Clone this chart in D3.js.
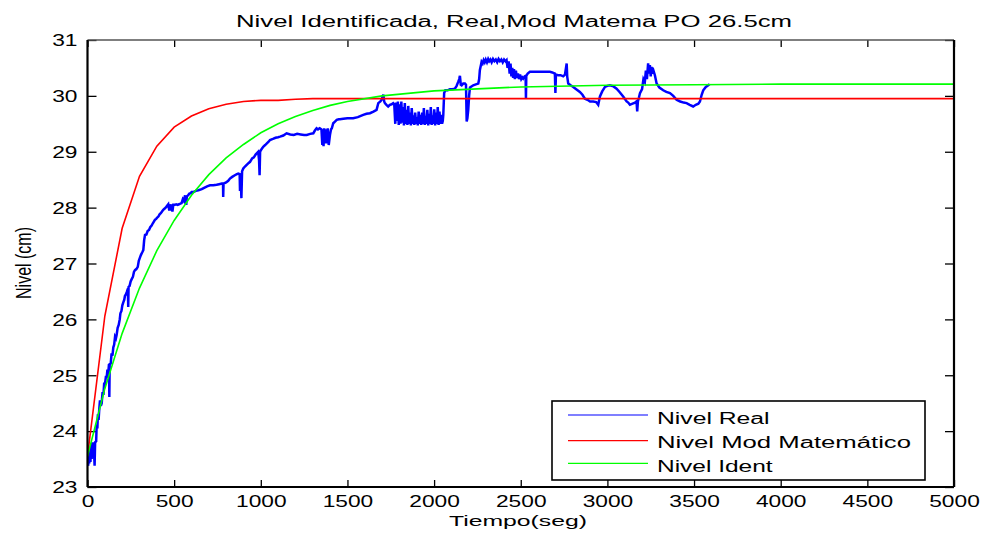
<!DOCTYPE html>
<html>
<head>
<meta charset="utf-8">
<script src="https://cdn.jsdelivr.net/npm/d3@7"></script>
<style>
  html, body { margin: 0; padding: 0; background: #fff; }
  svg { display: block; }
  text { font-family: "Liberation Sans", Arial, Helvetica, sans-serif; fill: #000; }
</style>
</head>
<body>
<svg id="chart" width="984" height="533"></svg>
<script>
// ---------------- DATA ----------------
const titleText = "Nivel Identificada, Real,Mod Matema PO 26.5cm";
const xLabel = "Tiempo(seg)";
const yLabel = "Nivel (cm)";
const legendLabels = ["Nivel Real", "Nivel Mod Matemático", "Nivel Ident"];
const xTicks = [0, 500, 1000, 1500, 2000, 2500, 3000, 3500, 4000, 4500, 5000];
const yTicks = [23, 24, 25, 26, 27, 28, 29, 30, 31];

// Nivel Mod Matemático (red)
const redT = [0, 100, 200, 300, 400, 500, 600, 700, 800, 900, 1000, 1100, 1200, 1300, 5000];
const redV = [23.55, 26.06, 27.63, 28.56, 29.1, 29.44, 29.64, 29.77, 29.85, 29.9, 29.92, 29.92, 29.94, 29.95, 29.95];

// Nivel Ident (green)
const greenT = [0, 100, 200, 300, 400, 500, 600, 700, 800, 900, 1000, 1100, 1200, 1300, 1400, 1500, 1700, 2000, 2500, 3000, 3500, 4000, 5000];
const greenV = [23.55, 24.76, 25.75, 26.56, 27.23, 27.77, 28.22, 28.59, 28.89, 29.13, 29.34, 29.5, 29.63, 29.74, 29.83, 29.9, 30.0, 30.09, 30.16, 30.19, 30.2, 30.21, 30.21];

// Nivel Real (blue, measured)
const blueT = [
  0, 4, 7, 10, 14, 17, 21, 24, 28, 31, 35, 38, 41, 44, 50, 53, 57, 60, 64, 68,
  72, 77, 82, 87, 92, 96, 101, 106, 111, 115, 120, 124, 126, 128, 134, 139, 144, 149, 154, 159,
  164, 168, 174, 180, 186, 190, 196, 201, 207, 212, 216, 222, 228, 233, 235, 237, 243, 249, 255, 262,
  268, 274, 282, 290, 296, 302, 308, 316, 322, 327, 332, 340, 347, 355, 362, 370, 377, 383, 389, 396,
  402, 409, 416, 423, 430, 437, 444, 451, 458, 466, 472, 476, 482, 486, 490, 495, 504, 512, 520, 528,
  536, 543, 550, 556, 563, 567, 570, 573, 580, 588, 596, 601, 612, 625, 640, 659, 670, 690, 707, 726,
  745, 760, 775, 782, 783, 785, 800, 812, 822, 835, 850, 862, 870, 878, 880, 884, 888, 892, 899, 910,
  920, 930, 938, 950, 960, 970, 985, 990, 993, 996, 1005, 1014, 1025, 1035, 1045, 1053, 1070, 1085, 1100, 1111,
  1130, 1149, 1170, 1190, 1210, 1230, 1250, 1265, 1285, 1303, 1312, 1322, 1330, 1340, 1350, 1355, 1358, 1362, 1366, 1370,
  1374, 1380, 1386, 1392, 1399, 1405, 1410, 1418, 1428, 1438, 1450, 1457, 1476, 1500, 1533, 1560, 1591, 1610, 1630, 1650,
  1668, 1678, 1690, 1697, 1702, 1707, 1712, 1716, 1725, 1735, 1745, 1755, 1764, 1770, 1776, 1781, 1786, 1791, 1796, 1801,
  1806, 1811, 1816, 1821, 1826, 1831, 1836, 1841, 1846, 1851, 1856, 1861, 1866, 1871, 1876, 1881, 1886, 1891, 1896, 1901,
  1906, 1911, 1916, 1921, 1926, 1931, 1936, 1941, 1946, 1951, 1956, 1961, 1966, 1971, 1976, 1981, 1986, 1991, 1996, 2001,
  2006, 2011, 2016, 2021, 2026, 2031, 2036, 2041, 2046, 2050, 2053, 2058, 2065, 2078, 2091, 2105, 2120, 2130, 2139, 2145,
  2149, 2154, 2159, 2168, 2178, 2184, 2188, 2192, 2197, 2202, 2207, 2226, 2245, 2255, 2260, 2264, 2270, 2274, 2280, 2286,
  2292, 2298, 2305, 2312, 2318, 2325, 2332, 2340, 2348, 2356, 2364, 2372, 2380, 2388, 2396, 2404, 2412, 2418, 2424, 2430,
  2436, 2441, 2446, 2451, 2456, 2461, 2466, 2472, 2478, 2484, 2490, 2496, 2503, 2509, 2514, 2522, 2528, 2530, 2532, 2540,
  2553, 2572, 2600, 2630, 2668, 2682, 2697, 2700, 2703, 2716, 2730, 2745, 2755, 2765, 2768, 2774, 2788, 2803, 2820, 2841,
  2856, 2870, 2885, 2900, 2918, 2935, 2947, 2957, 2970, 2986, 3000, 3014, 3035, 3053, 3070, 3091, 3100, 3111, 3120, 3130,
  3145, 3160, 3168, 3172, 3176, 3182, 3188, 3200, 3208, 3216, 3222, 3228, 3235, 3240, 3245, 3250, 3255, 3260, 3266, 3274,
  3284, 3300, 3322, 3340, 3361, 3380, 3399, 3420, 3440, 3457, 3475, 3495, 3510, 3525, 3534, 3544, 3553, 3568, 3582, 3590
];
const blueV = [
  23.45, 23.38, 23.65, 23.42, 23.72, 23.45, 23.78, 23.5, 23.8, 23.55, 23.8, 23.6, 23.38, 23.8, 23.82, 24.12, 24.05, 24.3, 24.2, 24.4,
  24.55, 24.45, 24.5, 24.7, 24.65, 24.85, 24.85, 24.97, 24.97, 25.1, 25.05, 25.2, 24.61, 25.2, 25.21, 25.39, 25.35, 25.5, 25.55, 25.69,
  25.66, 25.72, 25.85, 25.9, 26.0, 26.11, 26.15, 26.25, 26.31, 26.35, 26.42, 26.45, 26.5, 26.55, 26.22, 26.58, 26.6, 26.68, 26.72, 26.76,
  26.85, 26.88, 26.9, 26.94, 27.05, 27.1, 27.15, 27.2, 27.24, 27.42, 27.51, 27.52, 27.58, 27.6, 27.65, 27.68, 27.72, 27.75, 27.78, 27.8,
  27.82, 27.84, 27.88, 27.9, 27.93, 27.96, 27.98, 28.0, 28.03, 28.06, 27.95, 28.06, 27.95, 28.06, 27.93, 28.05, 28.05, 28.06, 28.05, 28.06,
  28.07, 28.08, 28.15, 28.12, 28.22, 28.1, 28.05, 28.2, 28.22, 28.25, 28.26, 28.28, 28.28, 28.3, 28.31, 28.33, 28.35, 28.38, 28.4, 28.4,
  28.41, 28.42, 28.43, 28.43, 28.19, 28.43, 28.45, 28.48, 28.52, 28.55, 28.58, 28.6, 28.61, 28.6, 28.3, 28.55, 28.17, 28.65, 28.7, 28.74,
  28.77, 28.8, 28.82, 28.88, 28.9, 28.95, 29.0, 28.85, 28.58, 29.0, 29.05, 29.09, 29.12, 29.15, 29.18, 29.21, 29.23, 29.25, 29.26, 29.27,
  29.29, 29.33, 29.31, 29.3, 29.32, 29.31, 29.3, 29.3, 29.32, 29.33, 29.38, 29.42, 29.4, 29.42, 29.4, 29.12, 29.4, 29.1, 29.42, 29.15,
  29.4, 29.15, 29.42, 29.12, 29.3, 29.4, 29.42, 29.51, 29.54, 29.57, 29.58, 29.58, 29.59, 29.6, 29.6, 29.62, 29.66, 29.68, 29.69, 29.72,
  29.75, 29.87, 29.9, 29.93, 29.98, 30.02, 29.9, 29.87, 29.84, 29.81, 29.84, 29.85, 29.87, 29.85, 29.5, 29.88, 29.55, 29.9, 29.48, 29.85,
  29.5, 29.9, 29.52, 29.8, 29.47, 29.87, 29.5, 29.75, 29.48, 29.82, 29.5, 29.7, 29.47, 29.78, 29.5, 29.65, 29.48, 29.7, 29.5, 29.62,
  29.47, 29.72, 29.5, 29.66, 29.48, 29.7, 29.5, 29.78, 29.48, 29.64, 29.5, 29.75, 29.47, 29.68, 29.5, 29.8, 29.48, 29.65, 29.5, 29.76,
  29.47, 29.7, 29.5, 29.8, 29.48, 29.72, 29.5, 29.66, 29.5, 29.55, 29.66, 30.05, 30.1, 30.1, 30.12, 30.12, 30.13, 30.18, 30.25, 30.3,
  30.36, 30.2, 30.19, 30.22, 30.22, 30.2, 29.54, 29.6, 29.75, 30.0, 30.15, 30.19, 30.21, 30.22, 30.3, 30.46, 30.55, 30.61, 30.58, 30.64,
  30.6, 30.65, 30.6, 30.66, 30.62, 30.65, 30.6, 30.66, 30.62, 30.65, 30.6, 30.66, 30.62, 30.65, 30.6, 30.65, 30.62, 30.64, 30.5, 30.62,
  30.4, 30.58, 30.35, 30.5, 30.32, 30.48, 30.3, 30.45, 30.32, 30.4, 30.3, 30.38, 30.3, 30.33, 30.31, 30.35, 30.36, 29.95, 30.36, 30.4,
  30.43, 30.43, 30.43, 30.43, 30.43, 30.42, 30.4, 30.05, 30.38, 30.37, 30.37, 30.35, 30.38, 30.58, 30.35, 30.22, 30.19, 30.16, 30.12, 30.07,
  30.02, 29.95, 29.93, 29.9, 29.9, 29.89, 29.84, 29.99, 30.08, 30.16, 30.18, 30.19, 30.17, 30.13, 30.07, 29.99, 29.95, 29.9, 29.88, 29.84,
  29.86, 29.88, 29.9, 29.72, 29.9, 29.97, 30.05, 30.12, 30.3, 30.25, 30.45, 30.3, 30.58, 30.4, 30.55, 30.35, 30.52, 30.4, 30.45, 30.37,
  30.22, 30.15, 30.1, 30.07, 30.05, 30.0, 29.93, 29.9, 29.88, 29.87, 29.84, 29.81, 29.84, 29.86, 29.9, 30.02, 30.1, 30.16, 30.19, 30.21
];

const seriesColors = ["#0000ff", "#ff0000", "#00ff00"];

// ---------------- CHART ----------------
const svg = d3.select("#chart");
const L = 87.5, R = 954, T = 40, B = 487;
const STRETCH = 1.42;

const x = d3.scaleLinear().domain([0, 5000]).range([L, R]);
const y = d3.scaleLinear().domain([23, 31]).range([B, T]);

function stretchText(sel, factor) {
  sel.each(function () {
    const n = this.getComputedTextLength();
    if (n > 0) {
      d3.select(this).attr("textLength", n * factor).attr("lengthAdjust", "spacingAndGlyphs");
    }
  });
}

// clip
svg.append("defs").append("clipPath").attr("id", "clip")
  .append("rect").attr("x", L).attr("y", T).attr("width", R - L).attr("height", B - T);

// axes
const gx = svg.append("g").attr("transform", `translate(0,${B})`)
  .call(d3.axisBottom(x).tickValues(xTicks).tickFormat(d3.format("d")).tickSizeInner(-7).tickSizeOuter(0).tickPadding(9));
const gxt = svg.append("g").attr("transform", `translate(0,${T})`)
  .call(d3.axisTop(x).tickValues(xTicks).tickFormat("").tickSizeInner(-7).tickSizeOuter(0));
const gy = svg.append("g").attr("transform", `translate(${L},0)`)
  .call(d3.axisLeft(y).tickValues(yTicks).tickFormat(d3.format("d")).tickSizeInner(-9).tickSizeOuter(0).tickPadding(10));
const gyr = svg.append("g").attr("transform", `translate(${R},0)`)
  .call(d3.axisRight(y).tickValues(yTicks).tickFormat("").tickSizeInner(-9).tickSizeOuter(0));

[gx, gxt, gy, gyr].forEach(g => {
  g.select(".domain").remove();
  g.selectAll(".tick line").attr("stroke", "#000").attr("stroke-width", 1.3);
  g.selectAll("text").attr("font-size", 16).attr("font-family", null).style("font-family", "'Liberation Sans', Arial, sans-serif");
});
stretchText(gx.selectAll("text"), STRETCH);
stretchText(gy.selectAll("text"), STRETCH);
gy.selectAll("text").attr("dy", "0.36em");

// lines
const line = d3.line().x(d => x(d[0])).y(d => y(d[1]));
const plot = svg.append("g").attr("clip-path", "url(#clip)");
const blueData = blueT.map((t, i) => [t, blueV[i]]);
const redData = redT.map((t, i) => [t, redV[i]]);
const greenData = greenT.map((t, i) => [t, greenV[i]]);
plot.append("path").datum(blueData).attr("d", line).attr("fill", "none")
  .attr("stroke", seriesColors[0]).attr("stroke-width", 2.5).attr("stroke-linejoin", "miter");
plot.append("path").datum(redData).attr("d", line).attr("fill", "none")
  .attr("stroke", seriesColors[1]).attr("stroke-width", 1.6);
plot.append("path").datum(greenData).attr("d", line).attr("fill", "none")
  .attr("stroke", seriesColors[2]).attr("stroke-width", 1.6);

// frame
svg.append("line").attr("x1", L).attr("x2", R).attr("y1", T).attr("y2", T).attr("stroke", "#555").attr("stroke-width", 1.5);
svg.append("line").attr("x1", L).attr("x2", R).attr("y1", B).attr("y2", B).attr("stroke", "#000").attr("stroke-width", 2.2);
svg.append("line").attr("x1", L).attr("x2", L).attr("y1", T).attr("y2", B).attr("stroke", "#000").attr("stroke-width", 2.2);
svg.append("line").attr("x1", R).attr("x2", R).attr("y1", T).attr("y2", B).attr("stroke", "#000").attr("stroke-width", 2.2);

// title
svg.append("text").attr("x", 514).attr("y", 26.5).attr("text-anchor", "middle")
  .attr("font-size", 16).attr("textLength", 556).attr("lengthAdjust", "spacingAndGlyphs").text(titleText);

// x label
svg.append("text").attr("x", 518).attr("y", 526).attr("text-anchor", "middle")
  .attr("font-size", 15.5).attr("textLength", 138).attr("lengthAdjust", "spacingAndGlyphs").text(xLabel);

// y label
svg.append("text").attr("transform", `translate(31,263) scale(${STRETCH},1) rotate(-90)`)
  .attr("text-anchor", "middle").attr("font-size", 16).text(yLabel);

// legend
const lg = svg.append("g");
lg.append("rect").attr("x", 552).attr("y", 401).attr("width", 373).attr("height", 79)
  .attr("fill", "#fff").attr("stroke", "#000").attr("stroke-width", 1.6);
const legY = [415, 440.7, 463.3];
const legBase = [424.3, 448.3, 471.7];
const legW = [112.6, 254, 115.6];
legendLabels.forEach((lab, i) => {
  lg.append("line").attr("x1", 568).attr("x2", 648).attr("y1", legY[i]).attr("y2", legY[i])
    .attr("stroke", seriesColors[i]).attr("stroke-width", 1.2);
  lg.append("text").attr("x", 657).attr("y", legBase[i]).attr("font-size", 16)
    .attr("textLength", legW[i]).attr("lengthAdjust", "spacingAndGlyphs").text(lab);
});
</script>
</body>
</html>
